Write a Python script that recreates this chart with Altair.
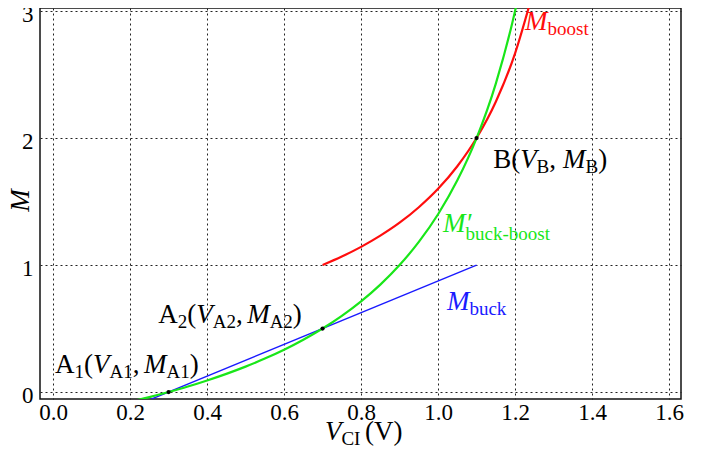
import altair as alt
import pandas as pd

# ---------------- data ----------------
boost_v = [0.70, 0.75, 0.80, 0.85, 0.90, 0.95, 1.00, 1.05, 1.10, 1.15, 1.20, 1.24]
boost_m = [1.000, 1.067, 1.143, 1.231, 1.333, 1.455, 1.600, 1.778, 2.000, 2.286, 2.667, 3.077]

bb_v = [0.20, 0.25, 0.30, 0.35, 0.40, 0.45, 0.50, 0.55, 0.60, 0.65, 0.70,
        0.75, 0.80, 0.85, 0.90, 0.95, 1.00, 1.05, 1.10, 1.15, 1.20, 1.21]
bb_m = [-0.077, -0.040, 0.000, 0.043, 0.091, 0.143, 0.200, 0.263, 0.333, 0.412, 0.500,
        0.600, 0.714, 0.846, 1.000, 1.182, 1.400, 1.667, 2.000, 2.429, 3.000, 3.138]

buck_v = [0.24, 1.10]
buck_m = [-0.075, 1.00]

pt_v = [0.30, 0.70, 1.10]
pt_m = [0.00, 0.50, 2.00]

x_ticks = [0.0, 0.2, 0.4, 0.6, 0.8, 1.0, 1.2, 1.4, 1.6]
y_ticks = [0, 1, 2, 3]

# ---------------- layout ----------------
XDOM = [-0.034, 1.631]
YDOM = [-0.055, 3.024]
W, H = 641, 391
PX_X = W / (XDOM[1] - XDOM[0])
PX_Y = H / (YDOM[1] - YDOM[0])

FONT = "Liberation Serif"
MAIN = 27
SUB = 19
SUBDY = 5

RED = "#ff0d0d"
GREEN = "#19e619"
BLUE = "#1a1aff"

REG = {'A': .722, 'B': .667, 'C': .667, 'I': .333, 'V': .722, 'M': .889, '(': .333,
       ')': .333, ',': .25, ' ': .25, 'b': .5, 'o': .5, 's': .389, 't': .278,
       'u': .5, 'c': .444, 'k': .5, '-': .333}
IT = {'V': .611, 'M': .833, '′': .3}


def label(x0, y0, segs, color, subdy=SUBDY):
    rows = []
    cur = 0.0
    for seg in segs:
        text, kind = seg[0], seg[1]
        if kind == "gap":
            cur += seg[2]
            continue
        size = SUB if kind == "sub" else MAIN
        table = IT if kind in ("it", "prime") else REG
        w = sum(table.get(ch, .5) for ch in text) * size
        dy = subdy if kind == "sub" else 0
        rows.append(dict(x=x0 + cur / PX_X, y=y0 - dy / PX_Y, text=text,
                         kind="it" if kind == "prime" else kind, color=color))
        if kind != "prime":
            cur += w
    return rows


thin = ("", "gap", 4.5)
rows = []
rows += label(0.005, 0.15, [("A", "rm"), ("1", "sub"), ("(", "rm"), ("V", "it"), ("A1", "sub"),
                            (",", "rm"), thin, ("M", "it"), ("A1", "sub"), (")", "rm")], "black")
rows += label(0.273, 0.543, [("A", "rm"), ("2", "sub"), ("(", "rm"), ("V", "it"), ("A2", "sub"),
                             (",", "rm"), thin, ("M", "it"), ("A2", "sub"), (")", "rm")], "black")
rows += label(1.143, 1.764, [("B", "rm"), ("(", "rm"), ("V", "it"), ("B", "sub"),
                             (",", "rm"), ("", "gap", 7), ("M", "it"), ("B", "sub"), (")", "rm")], "black")
rows += label(1.226, 2.85, [("M", "it"), ("boost", "sub")], RED)
rows += label(1.013, 1.26, [("M", "it"), ("′", "prime"), ("buck-boost", "sub")], GREEN, subdy=8)
rows += label(1.023, 0.646, [("M", "it"), ("buck", "sub")], BLUE)
rows += label(0.706, -0.38, [("V", "it"), ("CI", "sub"), thin, ("(V)", "rm")], "black")
ann = pd.DataFrame(rows)

xs = alt.Scale(domain=XDOM, nice=False, zero=False)
ys = alt.Scale(domain=YDOM, nice=False, zero=False)
xaxis = alt.Axis(values=x_ticks, format=".1f", title=None, labelPadding=2)
yaxis = alt.Axis(values=y_ticks, format="d", title="M", labelPadding=7, labelOffset=3,
                 titleAngle=270, titleX=-20, titleY=192, titleAlign="center",
                 titleBaseline="middle")


def X(f):
    return alt.X(f, type="quantitative", scale=xs, axis=xaxis)


def Y(f):
    return alt.Y(f, type="quantitative", scale=ys, axis=yaxis)


df_boost = pd.DataFrame({"v": boost_v, "m": boost_m})
df_bb = pd.DataFrame({"v": bb_v, "m": bb_m})
df_buck = pd.DataFrame({"v": buck_v, "m": buck_m})
df_pt = pd.DataFrame({"v": pt_v, "m": pt_m})

buck = alt.Chart(df_buck).mark_line(color=BLUE, strokeWidth=1.4, clip=True).encode(x=X("v"), y=Y("m"))
bb = alt.Chart(df_bb).mark_line(color=GREEN, strokeWidth=2.2, clip=True,
                                interpolate="monotone").encode(x=X("v"), y=Y("m"))
boost = alt.Chart(df_boost).mark_line(color=RED, strokeWidth=2.2, clip=True,
                                      interpolate="monotone").encode(x=X("v"), y=Y("m"))
pts = alt.Chart(df_pt).mark_point(filled=True, color="black", size=18, opacity=1).encode(x=X("v"), y=Y("m"))

layers = [buck, boost, bb, pts]
for kind, size, style in [("rm", MAIN, "normal"), ("it", MAIN, "italic"), ("sub", SUB, "normal")]:
    layers.append(
        alt.Chart(ann[ann["kind"] == kind]).mark_text(
            font=FONT, fontSize=size, fontStyle=style, align="left", baseline="alphabetic"
        ).encode(x=X("x"), y=Y("y"), text="text:N", color=alt.Color("color:N", scale=None))
    )

chart = alt.layer(*layers).properties(
    width=W, height=H, background="white",
    autosize=alt.AutoSizeParams(type="none"),
    padding={"left": 32, "top": 0, "right": 19, "bottom": 54},
).configure_view(
    stroke="#111", strokeWidth=1.5
).configure_axis(
    grid=True, ticks=False, domain=False,
    labelFont=FONT, labelFontSize=23, labelColor="black",
    gridDash=[2, 3], gridColor="#222", gridWidth=1, gridOpacity=1,
    titleFont=FONT, titleFontSize=27, titleFontStyle="italic",
    titleFontWeight="normal", titleColor="black"
)

chart.save("out.html", embed_options={"renderer": "svg", "actions": False})
